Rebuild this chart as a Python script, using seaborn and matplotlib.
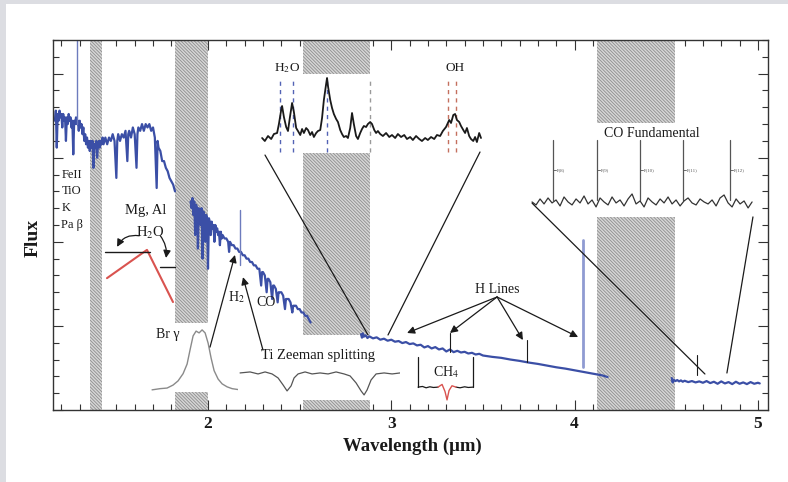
import numpy as np
import matplotlib
matplotlib.use("Agg")
import matplotlib.pyplot as plt
from matplotlib.patches import Rectangle
from matplotlib.ticker import MultipleLocator, NullFormatter
import seaborn as sns

# ---------------------------------------------------------------- data
# Main spectrum segments: columns are wavelength (um) and flux (arbitrary)
jh_band = np.array([
    [1.165, 0.86], [1.170, 0.89], [1.175, 0.78], [1.180, 0.88], [1.185, 0.86],
    [1.190, 0.89], [1.195, 0.87], [1.200, 0.88], [1.205, 0.84], [1.210, 0.88],
    [1.215, 0.86], [1.220, 0.87], [1.225, 0.80], [1.230, 0.87], [1.235, 0.85],
    [1.240, 0.88], [1.245, 0.86], [1.250, 0.87], [1.255, 0.84], [1.260, 0.86],
    [1.265, 0.76], [1.270, 0.86], [1.275, 0.85], [1.280, 0.87], [1.285, 0.85],
    [1.290, 0.86], [1.295, 0.83], [1.300, 0.86], [1.305, 0.84], [1.310, 0.85],
    [1.315, 0.82], [1.320, 0.84], [1.325, 0.80], [1.330, 0.82], [1.335, 0.79],
    [1.340, 0.81], [1.345, 0.78], [1.350, 0.80], [1.355, 0.77], [1.360, 0.80],
    [1.365, 0.78], [1.370, 0.80], [1.375, 0.72], [1.380, 0.79], [1.385, 0.78],
    [1.390, 0.80], [1.395, 0.75], [1.400, 0.79], [1.405, 0.80], [1.410, 0.78],
    [1.415, 0.80], [1.420, 0.79], [1.425, 0.81], [1.430, 0.79], [1.440, 0.81],
    [1.450, 0.79], [1.460, 0.81], [1.470, 0.80], [1.480, 0.82], [1.490, 0.80],
    [1.500, 0.69], [1.505, 0.80], [1.510, 0.82], [1.520, 0.80], [1.530, 0.82],
    [1.540, 0.81], [1.550, 0.83], [1.560, 0.74], [1.565, 0.82], [1.570, 0.83],
    [1.580, 0.81], [1.590, 0.84], [1.600, 0.82], [1.610, 0.72], [1.615, 0.82],
    [1.620, 0.84], [1.630, 0.83], [1.640, 0.85], [1.650, 0.83], [1.660, 0.85],
    [1.670, 0.84], [1.680, 0.85], [1.690, 0.83], [1.700, 0.84], [1.710, 0.81],
    [1.720, 0.66], [1.725, 0.80], [1.730, 0.78], [1.740, 0.77], [1.750, 0.74],
    [1.760, 0.74], [1.770, 0.72], [1.780, 0.71], [1.790, 0.69], [1.800, 0.68],
    [1.810, 0.67], [1.820, 0.65],
])

k_band = np.array([
    [1.905, 0.62], [1.910, 0.60], [1.915, 0.63], [1.920, 0.58], [1.925, 0.62],
    [1.930, 0.52], [1.935, 0.61], [1.940, 0.60], [1.945, 0.48], [1.950, 0.60],
    [1.955, 0.59], [1.960, 0.55], [1.965, 0.60], [1.970, 0.45], [1.975, 0.59],
    [1.980, 0.58], [1.985, 0.50], [1.990, 0.58], [1.995, 0.57], [2.000, 0.42],
    [2.005, 0.57], [2.010, 0.56], [2.015, 0.52], [2.020, 0.56], [2.025, 0.54],
    [2.030, 0.55], [2.035, 0.50], [2.040, 0.55], [2.045, 0.53], [2.050, 0.54],
    [2.055, 0.52], [2.060, 0.53], [2.065, 0.49], [2.070, 0.53], [2.075, 0.51],
    [2.080, 0.52], [2.090, 0.51], [2.100, 0.51], [2.110, 0.50], [2.115, 0.47],
    [2.120, 0.50], [2.130, 0.49], [2.140, 0.49], [2.150, 0.48], [2.160, 0.48],
    [2.170, 0.47], [2.180, 0.47], [2.190, 0.46], [2.200, 0.46], [2.210, 0.45],
    [2.220, 0.45], [2.230, 0.44], [2.240, 0.44], [2.250, 0.43], [2.260, 0.43],
    [2.270, 0.42], [2.280, 0.42], [2.290, 0.37], [2.295, 0.41], [2.300, 0.41],
    [2.310, 0.40], [2.320, 0.35], [2.325, 0.39], [2.330, 0.39], [2.340, 0.38],
    [2.350, 0.33], [2.355, 0.37], [2.360, 0.37], [2.370, 0.36], [2.380, 0.32],
    [2.385, 0.35], [2.390, 0.35], [2.400, 0.35], [2.410, 0.34], [2.420, 0.30],
    [2.425, 0.33], [2.430, 0.33], [2.440, 0.33], [2.450, 0.32], [2.460, 0.29],
    [2.465, 0.31], [2.470, 0.31], [2.480, 0.31], [2.490, 0.30], [2.500, 0.30],
    [2.510, 0.29], [2.520, 0.29], [2.530, 0.28], [2.540, 0.28], [2.550, 0.27],
    [2.560, 0.26],
])

l_band = np.array([
    [2.835, 0.225], [2.840, 0.215], [2.845, 0.228], [2.850, 0.218], [2.860, 0.222],
    [2.870, 0.214], [2.880, 0.219], [2.900, 0.213], [2.920, 0.216], [2.940, 0.209],
    [2.960, 0.212], [2.980, 0.206], [3.000, 0.209], [3.020, 0.203], [3.040, 0.205],
    [3.060, 0.199], [3.080, 0.202], [3.100, 0.196], [3.120, 0.198], [3.140, 0.192],
    [3.160, 0.194], [3.180, 0.186], [3.200, 0.190], [3.220, 0.183], [3.240, 0.187],
    [3.260, 0.180], [3.280, 0.183], [3.300, 0.174], [3.320, 0.180], [3.340, 0.172],
    [3.360, 0.176], [3.380, 0.171], [3.400, 0.173], [3.420, 0.168], [3.440, 0.170],
    [3.460, 0.165], [3.480, 0.167], [3.500, 0.162], [3.550, 0.158], [3.600, 0.155],
    [3.650, 0.150], [3.700, 0.146], [3.750, 0.141], [3.800, 0.137], [3.850, 0.132],
    [3.900, 0.127], [3.950, 0.123], [4.000, 0.118], [4.050, 0.113], [4.100, 0.108],
    [4.150, 0.103], [4.180, 0.098],
])

m_band = np.array([
    [4.530, 0.095], [4.535, 0.082], [4.540, 0.090], [4.550, 0.086], [4.560, 0.089],
    [4.570, 0.085], [4.580, 0.088], [4.590, 0.084], [4.600, 0.087], [4.620, 0.083],
    [4.640, 0.086], [4.660, 0.082], [4.680, 0.085], [4.700, 0.081], [4.720, 0.086],
    [4.740, 0.080], [4.760, 0.084], [4.780, 0.078], [4.800, 0.085], [4.820, 0.079],
    [4.840, 0.083], [4.860, 0.077], [4.880, 0.084], [4.900, 0.078], [4.920, 0.082],
    [4.940, 0.077], [4.960, 0.083], [4.980, 0.078], [5.000, 0.081], [5.010, 0.079],
])

# Telluric windows (um)
telluric_bands = [(1.356, 1.421), (1.820, 2.000), (2.518, 2.884), (4.122, 4.548)]

# Emission / line markers: wavelength, flux bottom, flux top
line_markers = [(1.285, 0.85, 1.10), (2.175, 0.43, 0.595)]
h_line_wl = [3.320, 3.740, 4.046, 4.668]
h_line_lo = [0.172, 0.143, 0.128, 0.104]
h_line_hi = [0.229, 0.208, 0.505, 0.163]
h_arrow_targets = [(3.086, 0.229), (3.320, 0.229), (3.718, 0.208), (4.019, 0.217)]

feature_labels = ["FeII", "TiO", "K", "Pa β"]
feature_levels = [0.70, 0.65, 0.60, 0.55]

# Water index in H band
h2o_index_wl = [1.449, 1.667, 1.809]
h2o_index_flux = [0.392, 0.476, 0.321]

# CH4 zoom bracket
ch4_left = np.array([[3.146, 0.068], [3.170, 0.070], [3.190, 0.066], [3.210, 0.069],
                     [3.230, 0.067], [3.255, 0.068]])
ch4_dip = np.array([[3.255, 0.068], [3.277, 0.076], [3.293, 0.055], [3.304, 0.030],
                    [3.315, 0.058], [3.331, 0.072], [3.353, 0.068]])
ch4_right = np.array([[3.353, 0.068], [3.375, 0.066], [3.400, 0.069], [3.420, 0.067],
                      [3.446, 0.068]])

# L-band zoom: H2O and OH emission (normalised flux)
lzoom = np.array([
    [3.009, 1.02], [3.015, 0.99], [3.022, 1.04], [3.029, 1.01], [3.035, 1.06],
    [3.042, 1.07], [3.046, 1.16], [3.051, 1.30], [3.053, 1.34], [3.057, 1.23],
    [3.062, 1.13], [3.066, 1.09], [3.070, 1.22], [3.075, 1.37], [3.079, 1.28],
    [3.084, 1.12], [3.088, 1.09], [3.093, 1.05], [3.097, 1.11], [3.101, 1.07],
    [3.106, 1.12], [3.110, 1.10], [3.115, 1.05], [3.119, 1.08], [3.123, 1.03],
    [3.128, 1.07], [3.132, 1.09], [3.137, 1.10], [3.141, 1.22], [3.145, 1.40],
    [3.150, 1.56], [3.152, 1.62], [3.154, 1.54], [3.159, 1.40], [3.163, 1.32],
    [3.167, 1.26], [3.172, 1.21], [3.176, 1.18], [3.181, 1.10], [3.185, 1.06],
    [3.189, 1.03], [3.194, 1.04], [3.198, 1.02], [3.203, 1.12], [3.207, 1.27],
    [3.211, 1.16], [3.216, 1.04], [3.220, 1.01], [3.225, 1.07], [3.229, 1.11],
    [3.233, 1.14], [3.238, 1.13], [3.242, 1.16], [3.247, 1.18], [3.251, 1.16],
    [3.256, 1.10], [3.260, 1.07], [3.264, 1.09], [3.269, 1.06], [3.275, 1.04],
    [3.282, 1.07], [3.289, 1.03], [3.295, 1.05], [3.302, 1.02], [3.308, 1.06],
    [3.315, 1.03], [3.322, 1.05], [3.328, 1.01], [3.335, 1.03], [3.341, 1.00],
    [3.348, 1.04], [3.355, 1.01], [3.361, 0.99], [3.368, 1.02], [3.374, 1.00],
    [3.381, 1.03], [3.388, 1.01], [3.394, 1.05], [3.401, 1.04], [3.407, 1.09],
    [3.414, 1.13], [3.421, 1.20], [3.425, 1.17], [3.430, 1.25], [3.434, 1.26],
    [3.438, 1.20], [3.443, 1.18], [3.447, 1.14], [3.452, 1.10], [3.456, 1.07],
    [3.460, 1.12], [3.465, 1.04], [3.469, 1.01], [3.474, 0.99], [3.478, 1.03],
    [3.482, 0.98], [3.487, 1.07], [3.491, 1.02],
])
h2o_lines = [3.048, 3.077, 3.152]
h2o_blend = [3.247]
oh_lines = [3.419, 3.436]

# M-band zoom: CO fundamental (normalised flux)
co_wl = [4.606, 4.612, 4.618, 4.624, 4.630, 4.636, 4.642, 4.648, 4.654, 4.660,
         4.666, 4.672, 4.678, 4.684, 4.690, 4.696, 4.702, 4.708, 4.714, 4.720,
         4.726, 4.732, 4.738, 4.744, 4.750, 4.756, 4.762, 4.768, 4.774, 4.780,
         4.786, 4.792, 4.798, 4.804, 4.810, 4.816, 4.822, 4.828, 4.834, 4.840,
         4.846, 4.852, 4.858, 4.864, 4.870, 4.876, 4.882, 4.888, 4.894, 4.900,
         4.906, 4.912, 4.918, 4.924, 4.930, 4.936]
co_flux = [1.00, 0.97, 1.03, 0.98, 1.04, 0.99, 1.02, 0.96, 1.05, 1.00,
           0.97, 1.03, 0.99, 1.06, 0.98, 1.02, 0.95, 1.04, 1.00, 0.97,
           1.05, 0.99, 1.02, 0.96, 1.03, 1.08, 0.98, 1.01, 0.95, 1.04,
           1.00, 0.97, 1.03, 0.99, 1.05, 0.98, 1.02, 0.96, 1.01, 1.04,
           0.99, 0.97, 1.03, 1.00, 0.98, 1.02, 0.96, 1.04, 1.07, 0.99,
           0.95, 1.03, 0.98, 1.01, 0.94, 1.00]
co_lines = [4.6375, 4.7035, 4.768, 4.8325, 4.903]
co_line_names = ["P(8)", "P(9)", "P(10)", "P(11)", "P(12)"]

# Br gamma profile (velocity km/s, normalised flux)
brg_vel = [-480, -400, -330, -270, -220, -170, -130, -100, -70, -40, -10,
           20, 50, 80, 110, 140, 180, 220, 270, 320, 400, 460]
brg_flux = [1.00, 1.02, 1.03, 1.08, 1.15, 1.27, 1.43, 1.67, 1.90, 1.98, 1.95,
            2.00, 1.95, 1.78, 1.53, 1.32, 1.18, 1.10, 1.05, 1.02, 1.00, 1.00]

# Ti Zeeman-split absorption (offset in Angstrom, normalised flux)
ti_off = [1, 6, 10, 13.5, 17, 20, 22.5, 24.5, 26.5, 28, 30, 33.5, 37, 41, 45,
          49, 53, 56, 59, 61.5, 63, 64.5, 66.5, 69, 73, 77, 81]
ti_flux = [1.00, 1.01, 0.99, 1.01, 0.99, 0.95, 0.88, 0.82, 0.87, 0.95, 0.99,
           1.01, 0.99, 1.00, 0.99, 1.01, 0.99, 0.97, 0.90, 0.82, 0.78, 0.83,
           0.93, 0.99, 1.00, 0.99, 1.00]

# ---------------------------------------------------------------- style
sns.set_theme(style="ticks")
plt.rcParams["font.family"] = ["Liberation Serif", "DejaVu Serif"]
plt.rcParams["mathtext.fontset"] = "stix"
plt.rcParams["hatch.linewidth"] = 0.6

SPEC = "#3b4fa6"
INK = "#1a1a1a"
HATCH_FACE = "#d6d6d6"
HATCH_LINE = "#8e8e8e"

fig = plt.figure(figsize=(7.88, 4.82), dpi=100)
fig.patch.set_facecolor("#dcdde2")
fig.add_artist(Rectangle((6 / 788, 0), 1, 1 - 4 / 482, transform=fig.transFigure,
                         facecolor="white", edgecolor="none", zorder=-5))

ax = fig.add_axes([53 / 788, 72 / 482, 715 / 788, 370 / 482])
ax.set_facecolor("white")
ax.set_xlim(1.1544, 5.0551)
ax.set_ylim(0, 1.1)

for lo, hi in telluric_bands:
    ax.axvspan(lo, hi, facecolor=HATCH_FACE, edgecolor=HATCH_LINE,
               hatch="\\" * 10, linewidth=0, zorder=1)


def make_inset(bounds, xlim, ylim):
    ins = ax.inset_axes(bounds, transform=ax.transData, zorder=3)
    ins.set_facecolor("white")
    ins.set_xlim(*xlim)
    ins.set_ylim(*ylim)
    ins.set_xticks([])
    ins.set_yticks([])
    for s in ins.spines.values():
        s.set_visible(False)
    return ins


def spectrum(target, x, y, color, lw, z=4):
    sns.lineplot(x=x, y=y, ax=target, color=color, linewidth=lw,
                 sort=False, estimator=None, zorder=z)


# main spectrum
for seg in (jh_band, k_band, l_band, m_band):
    spectrum(ax, seg[:, 0], seg[:, 1], SPEC, 1.6)

for wl, lo, hi in line_markers:
    ax.plot([wl, wl], [lo, hi], color="#6d7bbd", lw=1.0, zorder=4)
for wl, lo, hi in zip(h_line_wl, h_line_lo, h_line_hi):
    if hi > 0.4:
        ax.plot([wl, wl], [lo, hi], color="#8f9bd2", lw=2.0, zorder=4)
    else:
        ax.plot([wl, wl], [lo, hi], color=INK, lw=0.8, zorder=4)

# left-edge feature labels
for name, lvl in zip(feature_labels, feature_levels):
    ax.text(1.200, lvl, name, fontsize=9, ha="left", va="center", color=INK, zorder=7)

# H-band water index
spectrum(ax, h2o_index_wl, h2o_index_flux, "#d9534f", 1.5, z=6)
ax.plot([1.438, 1.684], [0.470, 0.470], color=INK, lw=1.0, zorder=6)
ax.plot([1.738, 1.820], [0.425, 0.425], color=INK, lw=1.0, zorder=6)
ax.text(1.662, 0.592, "Mg, Al", fontsize=10.5, ha="center", va="center", color=INK, zorder=7)
ax.text(1.684, 0.525, r"H$_2$O", fontsize=10.5, ha="center", va="center", color=INK, zorder=7)
arrow = dict(arrowstyle="-|>", color=INK, lw=0.9, mutation_scale=11, shrinkA=0, shrinkB=0)
ax.annotate("", xy=(1.504, 0.485), xytext=(1.625, 0.518),
            arrowprops=dict(arrow, connectionstyle="arc3,rad=0.35"), zorder=7)
ax.annotate("", xy=(1.771, 0.452), xytext=(1.740, 0.518),
            arrowprops=dict(arrow, connectionstyle="arc3,rad=-0.2"), zorder=7)

# L-band zoom inset
ins_l = make_inset([2.262, 0.764, 1.266, 0.235], (2.9956, 3.5066), (0.87, 1.66))
for wl in h2o_lines:
    ins_l.plot([wl, wl], [0.88, 1.60], color="#5363b5", lw=1.0, ls=(0, (3, 3)))
for wl in h2o_blend:
    ins_l.plot([wl, wl], [0.88, 1.60], color="#9a9a9a", lw=1.0, ls=(0, (3, 3)))
for wl in oh_lines:
    ins_l.plot([wl, wl], [0.88, 1.60], color="#c4705e", lw=1.0, ls=(0, (3, 3)))
spectrum(ins_l, lzoom[:, 0], lzoom[:, 1], INK, 1.3)
ins_l.text(3.064, 1.72, r"H$_2$O", fontsize=9.5, ha="center", va="center", color=INK, clip_on=False)
ins_l.text(3.434, 1.72, "OH", fontsize=9.5, ha="center", va="center", color=INK, clip_on=False)
ax.plot([2.311, 2.873], [0.758, 0.223], color=INK, lw=0.9, zorder=6)
ax.plot([3.484, 2.982], [0.767, 0.223], color=INK, lw=0.9, zorder=6)

# M-band zoom inset
ins_m = make_inset([3.746, 0.574, 1.255, 0.279], (4.600, 4.945), (0.85, 1.79))
spectrum(ins_m, co_wl, co_flux, "#333333", 0.9)
for wl, nm in zip(co_lines, co_line_names):
    ins_m.plot([wl, wl], [1.02, 1.62], color="#555555", lw=0.9)
    ins_m.plot([wl, wl + 0.005], [1.32, 1.32], color="#555555", lw=0.6)
    ins_m.text(wl + 0.006, 1.32, nm, fontsize=3.5, ha="left", va="center", color="#555555")
ins_m.text(4.786, 1.69, "CO Fundamental", fontsize=10, ha="center", va="center", color=INK)
ax.plot([3.768, 4.711], [0.615, 0.107], color=INK, lw=0.9, zorder=6)
ax.plot([4.973, 4.831], [0.574, 0.110], color=INK, lw=0.9, zorder=6)

# Br gamma inset
ins_b = make_inset([1.673, 0.054, 0.546, 0.205], (-520, 480), (0.967, 2.117))
spectrum(ins_b, brg_vel, brg_flux, "#8a8a8a", 1.0)
ax.text(1.782, 0.223, "Br γ", fontsize=10, ha="center", va="center", color=INK, zorder=7)

# Ti Zeeman inset
ins_t = make_inset([2.164, 0.030, 0.884, 0.193], (0, 81), (0.73, 1.38))
spectrum(ins_t, ti_off, ti_flux, "#555555", 0.9)
ax.text(2.600, 0.161, "Ti Zeeman splitting", fontsize=10.5, ha="center", va="center",
        color=INK, zorder=7)

# K-band arrows
ax.text(2.153, 0.336, r"H$_2$", fontsize=10, ha="center", va="center", color=INK, zorder=7)
ax.text(2.316, 0.321, "CO", fontsize=10, ha="center", va="center", color=INK, zorder=7)
ax.annotate("", xy=(2.147, 0.461), xytext=(2.011, 0.187), arrowprops=arrow, zorder=7)
ax.annotate("", xy=(2.191, 0.395), xytext=(2.300, 0.178), arrowprops=arrow, zorder=7)

# H lines
ax.text(3.577, 0.357, "H Lines", fontsize=10, ha="center", va="center", color=INK, zorder=7)
for tx, ty in h_arrow_targets:
    ax.annotate("", xy=(tx, ty), xytext=(3.577, 0.336), arrowprops=arrow, zorder=7)

# CH4 bracket
ax.plot([3.146, 3.146], [0.158, 0.068], color=INK, lw=0.9, zorder=6)
ax.plot([3.446, 3.446], [0.158, 0.068], color=INK, lw=0.9, zorder=6)
spectrum(ax, ch4_left[:, 0], ch4_left[:, 1], INK, 0.9, z=6)
spectrum(ax, ch4_right[:, 0], ch4_right[:, 1], INK, 0.9, z=6)
spectrum(ax, ch4_dip[:, 0], ch4_dip[:, 1], "#d9534f", 1.0, z=6)
ax.text(3.296, 0.113, r"CH$_4$", fontsize=10, ha="center", va="center", color=INK, zorder=7)

# ---------------------------------------------------------------- axes
ax.set_xticks([2, 3, 4, 5])
ax.set_xticklabels(["2", "3", "4", "5"], fontsize=12.5, fontweight="bold")
ax.xaxis.set_minor_locator(MultipleLocator(0.1))
ax.yaxis.set_major_locator(MultipleLocator(0.25))
ax.yaxis.set_minor_locator(MultipleLocator(0.05))
ax.yaxis.set_major_formatter(NullFormatter())
ax.tick_params(which="both", direction="in", top=True, right=True, color="#333333", width=0.8)
ax.tick_params(which="major", length=7.5)
ax.tick_params(which="minor", length=4)
ax.tick_params(axis="x", pad=4, labelcolor=INK)
for s in ax.spines.values():
    s.set_linewidth(1.0)
    s.set_color("#333333")
    s.set_zorder(8)

ax.set_xlabel("Wavelength (μm)", fontsize=13.5, fontweight="bold", color=INK)
ax.set_ylabel("Flux", fontsize=14, fontweight="bold", color=INK)
ax.xaxis.set_label_coords(0.503, -0.075)
ax.yaxis.set_label_coords(-0.016, 0.465)

fig.savefig("out.png", dpi=100, facecolor=fig.get_facecolor())
